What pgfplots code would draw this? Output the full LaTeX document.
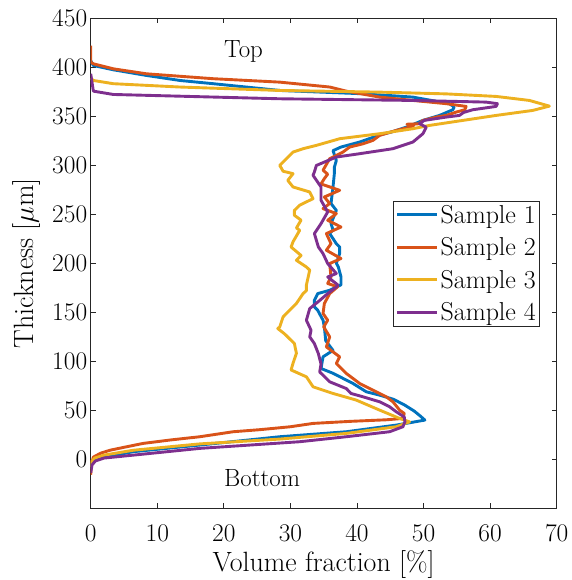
\documentclass[border=0pt]{standalone}
\usepackage{fix-cm}
\usepackage{pgfplots}
\pgfplotsset{compat=1.18}
\definecolor{c1}{rgb}{0,0.447,0.741}
\definecolor{c2}{rgb}{0.85,0.325,0.098}
\definecolor{c3}{rgb}{0.929,0.694,0.125}
\definecolor{c4}{rgb}{0.494,0.184,0.556}
\definecolor{axc}{rgb}{0.15,0.15,0.15}
\begin{document}
\begin{tikzpicture}
\begin{axis}[name=ax, scale only axis, width=466bp, height=489.5bp,
  xmin=0, xmax=70, ymin=-50, ymax=450,
  xtick={0,10,...,70}, ytick={0,50,...,450},
  tick align=inside, major tick length=5bp,
  axis line style={axc, line width=0.7bp},
  every tick/.style={axc, line width=0.7bp},
  every tick label/.append style={font=\fontsize{25.5}{30}\selectfont, text=black},
  /pgf/number format/assume math mode=true,
  xticklabel style={yshift=-13bp},
  xlabel={Volume fraction [\%]}, ylabel={Thickness [$\mu$m]},
  label style={font=\fontsize{28}{33}\selectfont},
  xlabel style={yshift=-2bp},
  ylabel style={yshift=5bp},
  legend cell align=left,
  legend style={at={(axis cs:67.5,264)}, anchor=north east, draw=axc, line width=0.7bp,
    font=\fontsize{26}{30}\selectfont, inner sep=2bp, row sep=9bp,
    nodes={inner sep=2bp}},
  legend image code/.code={\draw[#1] (0bp,0bp) -- (40bp,0bp);},
  every axis plot/.append style={line width=2.9bp, line join=round},
]
\addplot[c1] coordinates {(0,-10) (0.2,-4) (0.7,-1) (2,2) (6.4,7.5) (16.4,14.3) (28.4,22.8) (38.4,27.9) (45.9,34.7) (50.2,39.8) (49.5,44) (48.6,49) (47.2,55) (45.5,61) (43.4,65.3) (41.4,68.7) (39.4,77.2) (36.4,87.6) (34.6,92.5) (34.9,104.4) (36.4,111) (35.3,121) (35.1,135) (34.9,141.8) (34.1,152) (33.6,155.5) (33.6,162.2) (34.1,169) (35.9,172.4) (37.6,178) (37.6,186) (37.2,196.2) (36.9,200) (37.4,209.9) (37.4,216.6) (36.9,220) (35.9,230.3) (36.4,234) (36.1,240.5) (36.9,254) (36.1,261) (36.4,277.9) (36.6,291.5) (36.6,298) (36.9,305) (36.4,315) (37.6,318.7) (40.4,323.8) (43.4,331) (45.4,334.5) (47.6,339.5) (49.9,345.9) (52.4,351) (54.4,356.8) (54.6,359.6) (53.9,363) (48.4,369.7) (40.9,373.1) (28.4,376.5) (18.4,383.4) (13.4,386.7) (8.4,391.8) (3.4,397.6) (0.4,402) (0,407)};
\addlegendentry{Sample 1}
\addplot[c2] coordinates {(0,-16) (0.1,-5) (0.4,2) (1.5,6) (2.9,9) (5,12) (7.9,16) (12,19.5) (16.4,22.8) (21.4,27.9) (25.4,30) (30,33) (33.4,36.4) (39,38.5) (44.4,40.1) (46.9,41.5) (47.1,46.6) (46.4,50) (45.4,58.5) (44.4,63.6) (42.4,70.4) (40.4,77.2) (38.4,87.4) (36.9,97.6) (37.4,104.4) (35.4,114.6) (35.9,124.8) (35,135) (35.6,141.8) (34.9,148.7) (35.1,158.9) (35.9,169) (37.1,176) (35.6,179.3) (36.1,186) (35.9,199.7) (37.6,204.8) (35.4,213.3) (36.1,220) (35.4,230.3) (37.6,237) (35.6,243.9) (36.9,250.7) (34.9,255.8) (35.9,261) (35.1,267.7) (37.4,274.5) (34.6,281) (35.1,286.5) (35.6,291) (34.9,295) (35.9,306.8) (37.9,313.6) (38.9,318.7) (40.9,322) (42.4,325.5) (43.4,330.6) (45.9,335.7) (47.9,339) (48.5,340.5) (47.5,342) (49.4,342.5) (49.9,345.9) (51.9,349.3) (53.4,351) (54.9,354.4) (56.2,356.8) (56.4,360.2) (53.4,363) (48.4,366.3) (43.4,369.7) (38.4,375.8) (35.9,380) (28.4,385) (18.4,388.5) (8.4,393.5) (3.4,398.6) (0.4,403.7) (0,405.4) (0,422.4)};
\addlegendentry{Sample 2}
\addplot[c3] coordinates {(0,-8) (0.2,-2) (0.6,1) (2,4) (6.4,9) (16.4,15.5) (28.4,20.4) (38.4,26.2) (45.9,33) (47.9,38) (46.4,41.5) (43.4,50) (39.9,60.2) (36.4,67) (33.4,73.8) (32.4,84) (30.1,91) (30.4,98) (30.9,108) (30.6,118) (29.1,128) (28.1,133.3) (28.4,135) (28.9,145.2) (29.4,148.7) (30.9,158.9) (31.9,169) (32.4,172) (32.4,177.6) (32.9,192.9) (32.4,196.2) (30.9,203) (31.6,208) (30.1,216.6) (30.4,222) (31.4,233.7) (30.9,236) (31.6,244) (30.6,249) (30.6,254) (31.4,259.3) (33.4,266) (32.9,272.8) (30.4,277.9) (29.6,284.7) (30.4,291.5) (28.9,294) (28.4,300) (29.4,306.8) (30.4,313.6) (31.9,317) (33.9,320.4) (37.4,327.2) (43.4,332.3) (48.4,337.4) (50.9,340.8) (55.9,345.9) (60.9,351) (66.4,356.1) (68.9,360.5) (65.9,366.3) (60.9,370.4) (53.4,373) (43.4,374.8) (28.4,376.5) (13.4,380) (3.4,383.4) (0.4,386.7) (0,389)};
\addlegendentry{Sample 3}
\addplot[c4] coordinates {(0,-14) (0.2,-6) (0.7,-2) (2,1) (6.4,4) (16.4,10.9) (31.4,17.7) (38.4,22.8) (44.9,27.9) (46.9,33) (47.2,38) (47.1,43) (45.9,48.3) (44.9,53.4) (43.4,58.5) (40.9,63.6) (39.1,67) (38.4,72) (35.9,78.9) (34.4,89) (34.6,97) (34.2,107.7) (33.6,118) (32.9,124.8) (33.1,131.6) (32.4,141.8) (32.9,153.7) (34.4,162) (35.6,169) (36.9,175.8) (37.1,178) (35.6,186) (36.9,189.5) (35.6,199.7) (34.9,209.9) (34.2,216.6) (33.6,230.3) (34.6,240.5) (35.6,252.4) (34.6,264.3) (34.6,277.9) (33.4,289.8) (33.6,293.2) (33.9,299.9) (36.9,308.5) (40.4,311.9) (45.4,317) (48.4,323.8) (49.9,332.3) (50.4,339) (49.4,342.5) (50.1,345.9) (53.4,349.3) (55.4,351) (56,354) (57.4,356.8) (60.9,360.2) (61.1,363) (59.4,364.6) (48.4,366.3) (28.4,368) (3.4,372.4) (0.4,375.8) (0,393.5)};
\addlegendentry{Sample 4}
\node[anchor=base west, inner sep=0pt, font=\fontsize{25}{30}\selectfont] at (axis cs:20,410.5) {Top};
\node[anchor=base west, inner sep=0pt, font=\fontsize{25}{30}\selectfont] at (axis cs:20,-28.3) {Bottom};
\end{axis}
\pgfresetboundingbox
\path (ax.south west) ++(-90.7bp,-72bp) rectangle ++(572bp,580bp);
\end{tikzpicture}
\end{document}
